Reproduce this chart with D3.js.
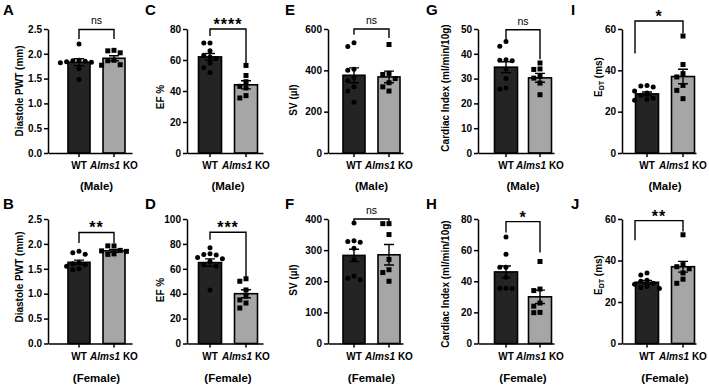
<!DOCTYPE html>
<meta charset="utf-8">
<style>
  body { margin: 0; background: #fff; }
  svg { font-family: "Liberation Sans", Arial, sans-serif; }
  .axis path, .axis line { stroke: #000; stroke-width: 1.5px; }
  .axis text { font-size: 10px; font-weight: bold; fill: #000; }
</style>
<body>
<script src="https://cdn.jsdelivr.net/npm/d3@7"></script>
<script>
// groups on the x axis
var groups = ["WT", "Alms1 KO"];

// panels, listed column by column (top = male, bottom = female)
var panelLetters = ["A", "B", "C", "D", "E", "F", "G", "H", "I", "J"];
var sexLabels = ["(Male)", "(Female)", "(Male)", "(Female)", "(Male)", "(Female)",
  "(Male)", "(Female)", "(Male)", "(Female)"];
// y titles: [main, subscript, rest]
var yTitles = [
  ["Diastole PWT (mm)", "", ""], ["Diastole PWT (mm)", "", ""],
  ["EF %", "", ""], ["EF %", "", ""],
  ["SV (µl)", "", ""], ["SV (µl)", "", ""],
  ["Cardiac Index (ml/min/10g)", "", ""], ["Cardiac Index (ml/min/10g)", "", ""],
  ["E", "DT", " (ms)"], ["E", "DT", " (ms)"]
];
var yMax = [2.5, 2.5, 80, 100, 600, 400, 50, 80, 60, 60];
var yStep = [0.5, 0.5, 20, 20, 200, 100, 10, 20, 20, 20];

// individual animals
var wtPoints = [
  [2.2, 1.87, 1.86, 1.85, 1.84, 1.83, 1.82, 1.7, 1.48],
  [1.85, 1.82, 1.79, 1.62, 1.6, 1.58, 1.55, 1.5, 1.48],
  [71, 71, 66, 63, 62, 61, 58, 55, 52],
  [77, 72, 71.5, 71, 69, 68, 66, 63, 62, 43],
  [534, 515, 405, 400, 365, 350, 320, 300, 245],
  [387, 330, 328, 325, 306, 270, 217, 210, 205],
  [45, 43, 37.6, 37.4, 37.2, 33.9, 30, 26.2, 25.8],
  [68.4, 57.4, 49, 49, 42.6, 35.5, 35.3, 35.5],
  [32.7, 32.4, 31.9, 30, 29, 28, 26.5, 26, 25.5],
  [34, 33, 30.5, 30, 29, 28.5, 27.5, 27, 26.5]
];
var koPoints = [
  [2.06, 2.07, 2.02, 1.86, 1.87, 1.78, 1.77],
  [1.96, 1.96, 1.87, 1.86, 1.85, 1.8, 1.79],
  [56.5, 50, 46, 43, 42, 37, 35.5],
  [52, 50, 43, 38, 35, 32.5, 28.5],
  [525, 385, 380, 360, 340, 320, 300],
  [385, 385, 350, 270, 237, 228, 200],
  [36.3, 33.9, 33.7, 30.9, 30.2, 28.2, 23.5],
  [52.7, 35, 34, 26, 24, 20, 19.8],
  [56.6, 42.8, 38.4, 36.8, 32.7, 30.3, 26.3],
  [52.4, 38, 37, 36, 34, 31, 29]
];
// mean and SEM
var wtMean = [1.83, 1.63, 62, 65, 376, 283, 34.6, 46, 28.6, 29.5];
var wtSem = [0.07, 0.045, 2.2, 3, 36, 20, 2.2, 3.8, 0.9, 0.9];
var koMean = [1.91, 1.86, 44, 40, 368, 285, 30.3, 30, 37, 37];
var koSem = [0.05, 0.03, 2.6, 3.2, 28, 33, 1.8, 4.3, 3.5, 2.6];

// significance brackets (data units)
var sigLabels = ["ns", "**", "****", "***", "ns", "ns", "ns", "*", "*", "**"];
var bracketTop = [2.49, 2.23, 80, 89.3, 600, 400, 49.7, 78.3, 63.9, 59.2];
var bracketLegL = [2.3, 2.02, 75.5, 83.4, 572, 387, 45, 71.4, 48.1, 49.7];
var bracketLegR = [2.3, 2.02, 57.5, 53.2, 556, 387, 37.8, 58.5, 57.9, 54];

// layout
var colLayout = [
  { ax: 48, wt: 79, ko: 114, end: 132, bw: 22, title: 19, letter: 3 },
  { ax: 187, wt: 210, ko: 246, end: 263, bw: 23, title: 160, letter: 145 },
  { ax: 328, wt: 354, ko: 389, end: 403, bw: 22, title: 293, letter: 285 },
  { ax: 478, wt: 506, ko: 540, end: 554, bw: 23, title: 445, letter: 426 },
  { ax: 622, wt: 647, ko: 683, end: 696, bw: 23, title: 598, letter: 571 }
];
var rowLayout = [
  { top: 29, bottom: 153, sex: 190, letter: 15 },
  { top: 219, bottom: 343.5, sex: 382, letter: 209 }
];
var titleY = [91, 277, 97, 290, 100, 280, 88, 284, 77, 275];
var bracketOff = [[0, 0], [0, 0], [0, 0], [0, 0], [0, 0], [0, 0], [0, 0], [0, 0], [-12, 0], [-12, 0]];

var fills = ["#242424", "#a6a6a6"];

var svg = d3.select("body").append("svg")
  .attr("width", 709)
  .attr("height", 386);

panelLetters.forEach(function (letter, i) {
  var col = colLayout[Math.floor(i / 2)],
    row = rowLayout[i % 2];

  var y = d3.scaleLinear()
    .domain([0, yMax[i]])
    .range([row.bottom, row.top]);

  // band scale whose range is the whole x axis line
  var step = col.ko - col.wt,
    pi = 1 - col.bw / step,
    R = col.end - col.ax,
    po = (R / step - (2 - pi)) / 2,
    align = (col.wt - col.bw / 2 - col.ax) / (R - step * (2 - pi));
  var x = d3.scaleBand()
    .domain(groups)
    .range([col.ax, col.end])
    .paddingInner(pi)
    .paddingOuter(po)
    .align(align);

  var g = svg.append("g");
  var means = [wtMean[i], koMean[i]],
    sems = [wtSem[i], koSem[i]],
    pts = [wtPoints[i], koPoints[i]];

  // bars
  g.selectAll("rect.bar")
    .data(groups)
    .enter().append("rect")
    .attr("class", "bar")
    .attr("x", function (d) { return x(d); })
    .attr("width", x.bandwidth())
    .attr("y", function (d, j) { return y(means[j]); })
    .attr("height", function (d, j) { return y(0) - y(means[j]); })
    .attr("fill", function (d, j) { return fills[j]; })
    .attr("stroke", "#000")
    .attr("stroke-width", 1.6);

  // error bars (mean +/- SEM)
  groups.forEach(function (d, j) {
    var cx = x(d) + x.bandwidth() / 2,
      hi = y(means[j] + sems[j]),
      lo = y(means[j] - sems[j]);
    g.append("path")
      .attr("d", "M" + cx + "," + lo + "V" + hi +
        "M" + (cx - 5) + "," + hi + "H" + (cx + 5) +
        "M" + (cx - 5) + "," + lo + "H" + (cx + 5))
      .attr("stroke", "#000")
      .attr("stroke-width", 1.4)
      .attr("fill", "none");
  });

  // scatter points, spread sideways when they overlap
  groups.forEach(function (d, j) {
    var cx = x(d) + x.bandwidth() / 2,
      r = 2.5,
      placed = [];
    pts[j].slice().sort(d3.descending).forEach(function (v) {
      var py = y(v), px = cx;
      for (var k = 0; k < 12; k++) {
        var off = (k % 2 ? -1 : 1) * Math.ceil(k / 2) * (2 * r + 1.2);
        var ok = placed.every(function (p) {
          return Math.hypot(p[0] - (cx + off), p[1] - py) >= 2 * r + 0.6;
        });
        if (ok) { px = cx + off; break; }
      }
      placed.push([px, py]);
    });
    if (j === 0) {
      g.selectAll("circle.pt")
        .data(placed)
        .enter().append("circle")
        .attr("class", "pt")
        .attr("cx", function (p) { return p[0]; })
        .attr("cy", function (p) { return p[1]; })
        .attr("r", r)
        .attr("fill", "#000");
    } else {
      g.selectAll("rect.pt")
        .data(placed)
        .enter().append("rect")
        .attr("class", "pt")
        .attr("x", function (p) { return p[0] - r; })
        .attr("y", function (p) { return p[1] - r; })
        .attr("width", 2 * r)
        .attr("height", 2 * r)
        .attr("fill", "#000");
    }
  });

  // axes
  g.append("g")
    .attr("class", "axis")
    .attr("transform", "translate(" + col.ax + ",0)")
    .call(d3.axisLeft(y)
      .tickValues(d3.range(0, yMax[i] + 1e-9, yStep[i]))
      .tickSize(4)
      .tickSizeOuter(0)
      .tickPadding(2)
      .tickFormat(i < 2 ? d3.format(".1f") : d3.format("d")));

  var xg = g.append("g")
    .attr("class", "axis")
    .attr("transform", "translate(0," + y(0) + ")")
    .call(d3.axisBottom(x)
      .tickSize(4)
      .tickSizeOuter(0)
      .tickPadding(5));
  xg.selectAll(".tick text")
    .each(function (d) {
      var t = d3.select(this);
      if (d === "Alms1 KO") {
        t.text(null);
        t.append("tspan").style("font-style", "italic").text("Alms1");
        t.append("tspan").text(" KO");
      }
    });

  // sex label
  g.append("text")
    .attr("x", (col.wt + col.ko) / 2)
    .attr("y", row.sex)
    .attr("text-anchor", "middle")
    .style("font-size", "11.5px")
    .style("font-weight", "bold")
    .text(sexLabels[i]);

  // panel letter
  g.append("text")
    .attr("x", col.letter)
    .attr("y", row.letter)
    .style("font-size", "15px")
    .style("font-weight", "bold")
    .text(letter);

  // y title
  var tt = g.append("text")
    .attr("transform", "translate(" + col.title + "," + titleY[i] + ") rotate(-90)")
    .attr("text-anchor", "middle")
    .attr("dy", "0.35em")
    .style("font-size", "10px")
    .style("font-weight", "bold");
  tt.append("tspan").text(yTitles[i][0]);
  if (yTitles[i][1]) {
    tt.append("tspan").attr("dy", 2).style("font-size", "7px").text(yTitles[i][1]);
    tt.append("tspan").attr("dy", -2).text(yTitles[i][2]);
  }

  // significance bracket
  var bx1 = col.wt + bracketOff[i][0],
    bx2 = col.ko + bracketOff[i][1],
    by = y(bracketTop[i]);
  g.append("path")
    .attr("d", "M" + bx1 + "," + y(bracketLegL[i]) + "V" + by + "H" + bx2 + "V" + y(bracketLegR[i]))
    .attr("stroke", "#000")
    .attr("stroke-width", 1.4)
    .attr("fill", "none");
  var isNs = sigLabels[i] === "ns";
  g.append("text")
    .attr("x", (bx1 + bx2) / 2)
    .attr("y", isNs ? by - 5 : by + 1)
    .attr("text-anchor", "middle")
    .style("font-size", isNs ? "10.5px" : "16px")
    .style("font-weight", isNs ? "normal" : "bold")
    .style("letter-spacing", isNs ? "0px" : "1px")
    .text(sigLabels[i]);
});
</script>
